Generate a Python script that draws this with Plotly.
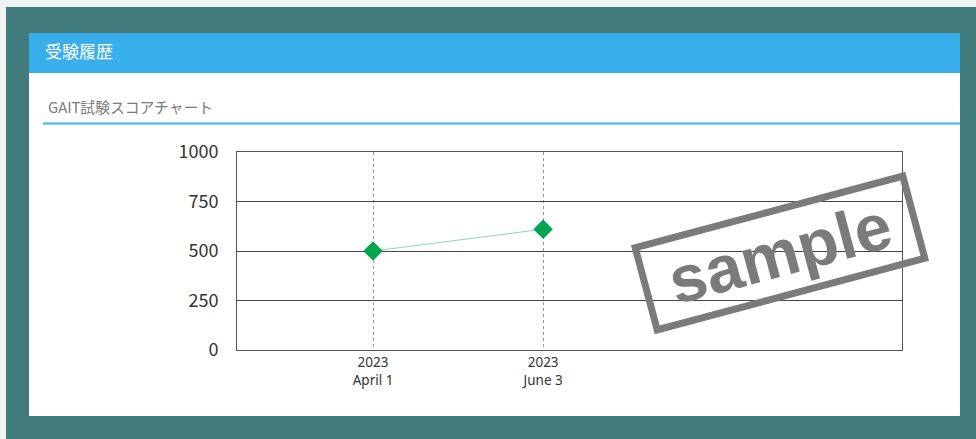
import plotly.graph_objects as go

# ---- data ----
dates = ["2023<br>April 1", "2023<br>June 3"]
scores = [500, 610]
y_ticks = [0, 250, 500, 750, 1000]
header_title = "受験履歴"
chart_title = "GAIT試験スコアチャート"
stamp_text = "sample"

W, H = 976, 439
L, R, T, B = 237, 902, 152, 350
FONT = "Noto Sans CJK JP"


def px(x):
    return (x - L) / (R - L)


def py(y):
    return (B - y) / (B - T)


def rect(x0, y0, x1, y1, color):
    return dict(type="rect", xref="paper", yref="paper", layer="below",
                x0=px(x0), x1=px(x1), y0=py(y1), y1=py(y0),
                fillcolor=color, line=dict(width=0))


fig = go.Figure()
fig.add_trace(go.Scatter(
    x=dates, y=scores, mode="lines+markers",
    line=dict(color="#86d9a6", width=1),
    marker=dict(symbol="diamond", size=15, color="#00a550"),
    hoverinfo="skip", showlegend=False,
))

shapes = [
    rect(6, 7, W + 5, H + 5, "#417b7b"),
    rect(29, 33, 960, 73, "#38aeea"),
    rect(29, 73, 960, 416, "#ffffff"),
    rect(43, 122.5, 960, 124.5, "#3cb4ec"),
]

annotations = [
    dict(text=header_title, x=px(43), y=py(51), xref="paper", yref="paper",
         xanchor="left", yanchor="middle", showarrow=False,
         font=dict(family=FONT, size=17, color="#ffffff")),
    dict(text=chart_title, x=px(46), y=py(106), xref="paper", yref="paper",
         xanchor="left", yanchor="middle", showarrow=False,
         font=dict(family=FONT, size=14.8, color="#7a7a7a")),
    dict(text="<b>" + stamp_text + "</b>", x=px(780), y=py(253), xref="paper", yref="paper",
         xanchor="center", yanchor="middle", showarrow=False, textangle=-15,
         width=262, height=70, borderpad=4, borderwidth=7, bordercolor="#7b7b7b",
         font=dict(family="Liberation Sans", size=66, color="#7b7b7b")),
]

fig.update_layout(
    width=W, height=H,
    margin=dict(l=L, r=W - R, t=T, b=H - B),
    paper_bgcolor="#eef3f4", plot_bgcolor="rgba(0,0,0,0)",
    shapes=shapes, annotations=annotations,
    font=dict(family=FONT, color="#333333"),
)
fig.update_xaxes(
    type="category", range=[-0.8, 3.11],
    showgrid=True, gridcolor="#9a9a9a", griddash="dot", gridwidth=1,
    showline=True, linecolor="#555555", linewidth=1, mirror=True,
    ticks="", tickfont=dict(family="Noto Sans", size=13.5, color="#333333"),
    zeroline=False,
)
fig.update_yaxes(
    range=[0, 1000], tickvals=y_ticks,
    showgrid=True, gridcolor="#444444", gridwidth=1,
    showline=True, linecolor="#555555", linewidth=1, mirror=True,
    ticks="outside", ticklen=14, tickcolor="rgba(0,0,0,0)",
    tickfont=dict(family=FONT, size=18, color="#333333"),
    zeroline=False,
)

fig.write_html("out.html")
